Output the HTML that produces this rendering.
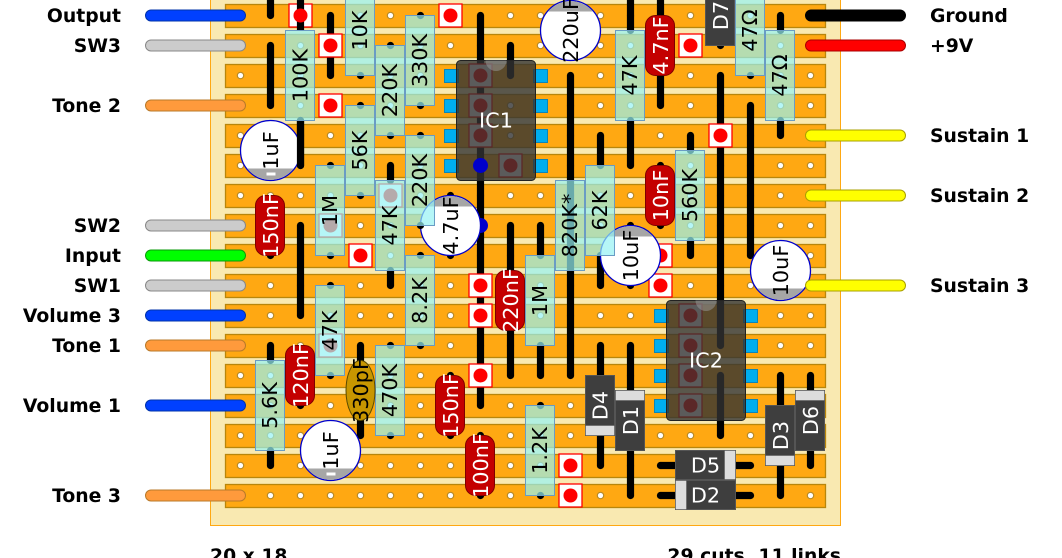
<!DOCTYPE html>
<html><head><meta charset="utf-8"><style>
html,body{margin:0;padding:0;background:#fff;width:1062px;height:558px;overflow:hidden}
svg{display:block}
text{font-family:"DejaVu Sans",sans-serif;font-size:20.800px;text-anchor:middle;fill:#000}
.l{font-weight:bold;font-size:18.800px;text-anchor:end}
.rl{font-weight:bold;font-size:18.800px;text-anchor:start}
.w{fill:#fff}
.res{fill:rgba(150,242,244,.7);stroke:#6a9cc4;stroke-width:1}
.cap{fill:#c40000;stroke:#7d0000;stroke-width:1}
.el{fill:#fff;stroke:#0000cc;stroke-width:1.300}
.g{fill:#a6a6a6}
.d{fill:#3e3e3e;stroke:#555;stroke-width:1}
.b{fill:#ddd;stroke:#555;stroke-width:.5}
.pad{fill:#fff;stroke:#f00;stroke-width:1.300}
.cut{fill:#00aeef;stroke:#0a86b8;stroke-width:1}
.ic{fill:rgba(50,50,50,.8);stroke:#222;stroke-width:1}
</style></head><body>
<svg width="1062" height="558" viewBox="0 0 1062 558" xmlns="http://www.w3.org/2000/svg">
<defs>
<pattern id="h" patternUnits="userSpaceOnUse" x="225" y="0" width="30" height="30"><circle cx="15" cy="15" r="3.200" fill="#fff" stroke="#b58a2a" stroke-width="1.200"/></pattern>
</defs>
<g transform="translate(.5,.5)">
<rect x="210" y="-5" width="630" height="530" fill="#f9e9b1" stroke="#ffa812"/>
<!-- strips -->
<g fill="#ffa812" stroke="#b8860b" stroke-width="1.300">
<rect x="225" y="4" width="600" height="23"/><rect x="225" y="34" width="600" height="23"/><rect x="225" y="64" width="600" height="23"/><rect x="225" y="94" width="600" height="23"/><rect x="225" y="124" width="600" height="23"/><rect x="225" y="154" width="600" height="23"/><rect x="225" y="184" width="600" height="23"/><rect x="225" y="214" width="600" height="23"/><rect x="225" y="244" width="600" height="23"/><rect x="225" y="274" width="600" height="23"/><rect x="225" y="304" width="600" height="23"/><rect x="225" y="334" width="600" height="23"/><rect x="225" y="364" width="600" height="23"/><rect x="225" y="394" width="600" height="23"/><rect x="225" y="424" width="600" height="23"/><rect x="225" y="454" width="600" height="23"/><rect x="225" y="484" width="600" height="23"/>
</g>
<rect x="225" y="0" width="600" height="510" fill="url(#h)"/>
<!-- cuts -->
<g class="cut">
<rect x="444" y="69" width="14" height="13" class="cut"/><rect x="444" y="99" width="14" height="13" class="cut"/><rect x="444" y="129" width="14" height="13" class="cut"/><rect x="444" y="159" width="14" height="13" class="cut"/>
<rect x="533" y="69" width="14" height="13" class="cut"/><rect x="533" y="99" width="14" height="13" class="cut"/><rect x="533" y="129" width="14" height="13" class="cut"/><rect x="533" y="159" width="14" height="13" class="cut"/>
<rect x="654" y="309" width="14" height="13" class="cut"/><rect x="654" y="339" width="14" height="13" class="cut"/><rect x="654" y="369" width="14" height="13" class="cut"/><rect x="654" y="399" width="14" height="13" class="cut"/>
<rect x="743" y="309" width="14" height="13" class="cut"/><rect x="743" y="339" width="14" height="13" class="cut"/><rect x="743" y="369" width="14" height="13" class="cut"/><rect x="743" y="399" width="14" height="13" class="cut"/>
</g>
<!-- wires -->
<path fill="none" stroke="#000" stroke-width="7.200" stroke-linecap="round" d="
M270 -5V15M270 45V105M270 345V360M270 450V465
M300 120V165M300 225V315
M330 15V75
M360 345V435
M390 165V180M390 270V285
M480 15V405
M510 45V75M510 225V375
M540 225V255M540 345V375
M570 75V375
M600 135V165M600 255V285M600 345V375M600 435V465
M630 -5V30M630 120V165M630 345V390M630 450V495
M660 -5V105M660 465H675M735 465H750M660 495H675M735 495H750
M690 135V150M690 240V255
M720 75V345M720 375V435
M750 105V255
M780 15V30M780 120V135M780 375V405M780 465V495
M810 375V390M810 450V465
M330 165v.01M330 255v.01M330 285v.01M330 375v.01
M360 75v.01M360 105v.01M360 195v.01
M390 45v.01M390 135v.01M390 345v.01M390 435v.01
M420 15v.01M420 105v.01M420 135v.01M420 255v.01M420 345v.01
M450 195v.01M450 255v.01M450 375v.01M450 435v.01
M480 435v.01M480 495v.01M540 405v.01M540 495v.01
M300 405v.01M270 255v.01M660 165v.01M660 225v.01
M750 75v.01M720 45v.01M630 225v.01M630 285v.01"/>
<!-- pads -->
<g class="pad">
<rect x="288.500" y="3.500" width="23" height="23" class="pad"/>
<rect x="318.500" y="33.500" width="23" height="23" class="pad"/>
<rect x="318.500" y="93.500" width="23" height="23" class="pad"/>
<rect x="438.500" y="3.500" width="23" height="23" class="pad"/>
<rect x="348.500" y="243.500" width="23" height="23" class="pad"/>
<rect x="468.500" y="273.500" width="23" height="23" class="pad"/>
<rect x="468.500" y="303.500" width="23" height="23" class="pad"/>
<rect x="468.500" y="363.500" width="23" height="23" class="pad"/>
<rect x="558.500" y="453.500" width="23" height="23" class="pad"/>
<rect x="558.500" y="483.500" width="23" height="23" class="pad"/>
<rect x="678.500" y="33.500" width="23" height="23" class="pad"/>
<rect x="708.500" y="123.500" width="23" height="23" class="pad"/>
<rect x="648.500" y="243.500" width="23" height="23" class="pad"/>
<rect x="648.500" y="273.500" width="23" height="23" class="pad"/>
<rect x="378.500" y="183.500" width="23" height="23" class="pad"/>
<rect x="318.500" y="213.500" width="23" height="23" class="pad"/>
<rect x="318.500" y="333.500" width="23" height="23" class="pad"/>
<rect x="468.500" y="63.500" width="23" height="23" class="pad"/>
<rect x="468.500" y="93.500" width="23" height="23" class="pad"/>
<rect x="468.500" y="123.500" width="23" height="23" class="pad"/>
<rect x="498.500" y="153.500" width="23" height="23" class="pad"/>
<rect x="678.500" y="303.500" width="23" height="23" class="pad"/>
<rect x="678.500" y="333.500" width="23" height="23" class="pad"/>
<rect x="678.500" y="363.500" width="23" height="23" class="pad"/>
<rect x="678.500" y="393.500" width="23" height="23" class="pad"/>
</g>
<path d="M300 -5V30" stroke="#000" stroke-width="7.200" fill="none"/>
<g fill="#f00">
<circle cx="300" cy="15" r="7"/><circle cx="330" cy="45" r="7"/><circle cx="330" cy="105" r="7"/><circle cx="450" cy="15" r="7"/><circle cx="360" cy="255" r="7"/><circle cx="480" cy="285" r="7"/><circle cx="480" cy="315" r="7"/><circle cx="480" cy="375" r="7"/><circle cx="570" cy="465" r="7"/><circle cx="570" cy="495" r="7"/><circle cx="690" cy="45" r="7"/><circle cx="720" cy="135" r="7"/><circle cx="660" cy="255" r="7"/><circle cx="660" cy="285" r="7"/><circle cx="390" cy="195" r="7"/><circle cx="330" cy="225" r="7"/><circle cx="330" cy="345" r="7"/>
<circle cx="480" cy="75" r="7"/><circle cx="480" cy="105" r="7"/><circle cx="480" cy="135" r="7"/><circle cx="510" cy="165" r="7"/><circle cx="690" cy="315" r="7"/><circle cx="690" cy="345" r="7"/><circle cx="690" cy="375" r="7"/><circle cx="690" cy="405" r="7"/>
</g>
<!-- ICs -->
<rect x="456" y="60" width="79" height="120" rx="4" class="ic"/>
<path d="M485 60a10.500 10.500 0 0 0 21 0z" fill="rgba(150,150,150,.55)"/>
<text x="495.500" y="127" class="w">IC1</text>
<rect x="666" y="300" width="79" height="120" rx="4" class="ic"/>
<path d="M695 300a10.500 10.500 0 0 0 21 0z" fill="rgba(150,150,150,.55)"/>
<text x="705.500" y="367" class="w">IC2</text>
<circle cx="480" cy="165" r="7.500" fill="#0000cc"/>
<circle cx="480" cy="225" r="7.500" fill="#0000cc"/>
<!-- electrolytics -->
<clipPath id="c1"><rect x="230" y="168" width="80" height="20"/></clipPath>
<clipPath id="c2"><rect x="290" y="468" width="80" height="20"/></clipPath>
<clipPath id="c3"><rect x="410" y="190" width="80" height="16"/></clipPath>
<clipPath id="c4"><rect x="590" y="220" width="80" height="16"/></clipPath>
<clipPath id="c5"><rect x="530" y="-5" width="80" height="16"/></clipPath>
<clipPath id="c6"><rect x="740" y="288" width="80" height="16"/></clipPath>
<circle cx="270" cy="150" r="30" class="el"/><circle cx="270" cy="150" r="29.400" class="g" clip-path="url(#c1)"/>
<circle cx="330" cy="450" r="30" class="el"/><circle cx="330" cy="450" r="29.400" class="g" clip-path="url(#c2)"/>
<circle cx="450" cy="225" r="30" class="el"/><circle cx="450" cy="225" r="29.400" class="g" clip-path="url(#c3)"/>
<circle cx="630" cy="255" r="30" class="el"/><circle cx="630" cy="255" r="29.400" class="g" clip-path="url(#c4)"/>
<circle cx="570" cy="30" r="30" class="el"/><circle cx="570" cy="30" r="29.400" class="g" clip-path="url(#c5)"/>
<circle cx="780" cy="270" r="30" class="el"/><circle cx="780" cy="270" r="29.400" class="g" clip-path="url(#c6)"/>
<text transform="translate(277.500,150) rotate(-90)">1uF</text>
<text transform="translate(337.500,450) rotate(-90)">1uF</text>
<text transform="translate(457.500,225) rotate(-90)">4.7uF</text>
<text transform="translate(637.500,255) rotate(-90)">10uF</text>
<text transform="translate(577.500,30) rotate(-90)">220uF</text>
<text transform="translate(787.500,270) rotate(-90)">10uF</text>
<rect x="266" y="172" width="9" height="3" fill="#fff"/>
<rect x="326" y="472" width="9" height="3" fill="#fff"/>
<path d="M300 120V165M420 225v.01" fill="none" stroke="#000" stroke-width="7.200" stroke-linecap="round"/>
<!-- resistors -->
<rect x="285" y="30" width="29" height="90" class="res"/><text transform="translate(307,75) rotate(-90)">100K</text>
<rect x="345" y="-15" width="29" height="90" class="res"/><text transform="translate(366.500,30) rotate(-90)">10K</text>
<rect x="345" y="105" width="29" height="90" class="res"/><text transform="translate(366.500,150) rotate(-90)">56K</text>
<rect x="315" y="165" width="29" height="90" class="res"/><text transform="translate(336.500,210) rotate(-90)">1M</text>
<rect x="315" y="285" width="29" height="90" class="res"/><text transform="translate(336.500,330) rotate(-90)">47K</text>
<rect x="375" y="45" width="29" height="90" class="res"/><text transform="translate(396.500,90) rotate(-90)">220K</text>
<rect x="375" y="180" width="29" height="90" class="res"/><text transform="translate(396.500,225) rotate(-90)">47K</text>
<rect x="375" y="345" width="29" height="90" class="res"/><text transform="translate(396.500,390) rotate(-90)">470K</text>
<rect x="405" y="15" width="29" height="90" class="res"/><text transform="translate(426.500,60) rotate(-90)">330K</text>
<rect x="405" y="135" width="29" height="90" class="res"/><text transform="translate(426.500,180) rotate(-90)">220K</text>
<rect x="405" y="255" width="29" height="90" class="res"/><text transform="translate(426.500,300) rotate(-90)">8.2K</text>
<rect x="255" y="360" width="29" height="90" class="res"/><text transform="translate(276.500,405) rotate(-90)">5.6K</text>
<rect x="525" y="255" width="29" height="90" class="res"/><text transform="translate(546.500,300) rotate(-90)">1M</text>
<rect x="525" y="405" width="29" height="90" class="res"/><text transform="translate(546.500,450) rotate(-90)">1.2K</text>
<rect x="555" y="180" width="29" height="90" class="res"/><text transform="translate(576.500,225) rotate(-90)">820K*</text>
<rect x="585" y="165" width="29" height="90" class="res"/><text transform="translate(606.500,210) rotate(-90)">62K</text>
<rect x="615" y="30" width="29" height="90" class="res"/><text transform="translate(636.500,75) rotate(-90)">47K</text>
<rect x="675" y="150" width="29" height="90" class="res"/><text transform="translate(696.500,195) rotate(-90)">560K</text>
<rect x="735" y="-15" width="29" height="90" class="res"/><text transform="translate(756.500,30) rotate(-90)">47Ω</text>
<rect x="765" y="30" width="29" height="90" class="res"/><text transform="translate(786.500,75) rotate(-90)">47Ω</text>
<!-- film caps -->
<rect x="255" y="195" width="29" height="60" rx="10" class="cap"/><text class="w" transform="translate(277.500,225) rotate(-90)">150nF</text>
<rect x="285" y="345" width="29" height="60" rx="10" class="cap"/><text class="w" transform="translate(307.500,375) rotate(-90)">120nF</text>
<rect x="435" y="375" width="29" height="60" rx="10" class="cap"/><text class="w" transform="translate(457.500,405) rotate(-90)">150nF</text>
<rect x="465" y="435" width="29" height="60" rx="10" class="cap"/><text class="w" transform="translate(487.500,465) rotate(-90)">100nF</text>
<rect x="495" y="270" width="29" height="60" rx="10" class="cap"/><text class="w" transform="translate(517.500,300) rotate(-90)">220nF</text>
<rect x="645" y="15" width="29" height="60" rx="10" class="cap"/><text class="w" transform="translate(667.500,45) rotate(-90)">4.7nF</text>
<rect x="645" y="165" width="29" height="60" rx="10" class="cap"/><text class="w" transform="translate(667.500,195) rotate(-90)">10nF</text>
<ellipse cx="360" cy="390" rx="14.500" ry="30" fill="#c89600" stroke="#5a4a00"/><text transform="translate(367.500,390) rotate(-90)">330pF</text>
<!-- diodes -->
<rect x="705" y="-15" width="29" height="60" class="d"/><text class="w" transform="translate(727.500,15) rotate(-90)">D7</text>
<rect x="585" y="375" width="29" height="60" class="d"/><rect x="585" y="425" width="29" height="10" class="b"/><text class="w" transform="translate(607,405) rotate(-90)">D4</text>
<rect x="615" y="390" width="29" height="60" class="d"/><rect x="615" y="390" width="29" height="10" class="b"/><text class="w" transform="translate(637.500,420) rotate(-90)">D1</text>
<rect x="765" y="405" width="29" height="60" class="d"/><rect x="765" y="455" width="29" height="10" class="b"/><text class="w" transform="translate(787.500,435) rotate(-90)">D3</text>
<rect x="795" y="390" width="29" height="60" class="d"/><rect x="795" y="390" width="29" height="10" class="b"/><text class="w" transform="translate(817.500,420) rotate(-90)">D6</text>
<rect x="675" y="450" width="60" height="29" class="d"/><rect x="724" y="450" width="11" height="29" class="b"/><text class="w" x="705" y="472">D5</text>
<rect x="675" y="480" width="60" height="29" class="d"/><rect x="675" y="480" width="11" height="29" class="b"/><text class="w" x="705" y="502">D2</text>
<!-- cables -->
<g stroke-width="1">
<rect x="145" y="9.500" width="100" height="11" rx="5.500" fill="#0040ff" stroke="#0033aa"/>
<rect x="145" y="39.500" width="100" height="11" rx="5.500" fill="#cccccc" stroke="#888"/>
<rect x="145" y="99.500" width="100" height="11" rx="5.500" fill="#ff9a3c" stroke="#b87a2a"/>
<rect x="145" y="219.500" width="100" height="11" rx="5.500" fill="#cccccc" stroke="#888"/>
<rect x="145" y="249.500" width="100" height="11" rx="5.500" fill="#00ff00" stroke="#0a9a0a"/>
<rect x="145" y="279.500" width="100" height="11" rx="5.500" fill="#cccccc" stroke="#888"/>
<rect x="145" y="309.500" width="100" height="11" rx="5.500" fill="#0040ff" stroke="#0033aa"/>
<rect x="145" y="339.500" width="100" height="11" rx="5.500" fill="#ff9a3c" stroke="#b87a2a"/>
<rect x="145" y="399.500" width="100" height="11" rx="5.500" fill="#0040ff" stroke="#0033aa"/>
<rect x="145" y="489.500" width="100" height="11" rx="5.500" fill="#ff9a3c" stroke="#b87a2a"/>
<rect x="805" y="9.500" width="100" height="11" rx="5.500" fill="#000" stroke="#000"/>
<rect x="805" y="39.500" width="100" height="11" rx="5.500" fill="#f00" stroke="#a00"/>
<rect x="805" y="129.500" width="100" height="11" rx="5.500" fill="#ff0" stroke="#aaa000"/>
<rect x="805" y="189.500" width="100" height="11" rx="5.500" fill="#ff0" stroke="#aaa000"/>
<rect x="805" y="279.500" width="100" height="11" rx="5.500" fill="#ff0" stroke="#aaa000"/>
</g>
</g>
<!-- labels -->
<text class="l" x="121" y="22">Output</text>
<text class="l" x="121" y="52">SW3</text>
<text class="l" x="121" y="112">Tone 2</text>
<text class="l" x="121" y="232">SW2</text>
<text class="l" x="121" y="262">Input</text>
<text class="l" x="121" y="292">SW1</text>
<text class="l" x="121" y="322">Volume 3</text>
<text class="l" x="121" y="352">Tone 1</text>
<text class="l" x="121" y="412">Volume 1</text>
<text class="l" x="121" y="502">Tone 3</text>
<text class="rl" x="930" y="22">Ground</text>
<text class="rl" x="930" y="52">+9V</text>
<text class="rl" x="930" y="142">Sustain 1</text>
<text class="rl" x="930" y="202">Sustain 2</text>
<text class="rl" x="930" y="292">Sustain 3</text>
<text class="rl" x="210" y="562">20 x 18</text>
<text class="l" x="841" y="562">29 cuts, 11 links</text>
</svg>
</body></html>
